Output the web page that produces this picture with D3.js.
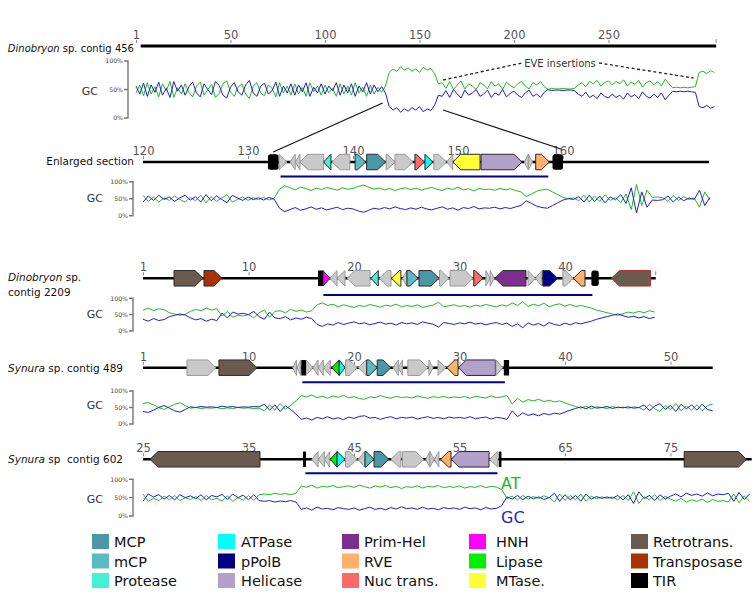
<!DOCTYPE html>
<html><head><meta charset="utf-8">
<script src="https://cdn.jsdelivr.net/npm/d3@7"></script>
<style>body{margin:0;background:#fff}svg{display:block;font-family:"DejaVu Sans",sans-serif}</style>
</head><body><svg id="c" width="756" height="596"></svg>
<script>
// ---------------- DATA ----------------
const geneTypes = ["MCP","mCP","Protease","ATPase","pPolB","Helicase","Prim-Hel","RVE","Nuc trans.","HNH","Lipase","MTase.","Retrotrans.","Transposase","TIR"];
const geneColors = ["#4a97a8","#5bbac3","#45f0d6","#00ffff","#000080","#b2a1cb","#7b2f8e","#ffb06b","#ff6868","#ff00ff","#00ee00","#ffff33","#6b5b4f","#a83300","#000000"];

// contig extents (kb)
const extent456 = [2.5, 307];
const extentEnl = [120, 173.9];
const extent2209 = [0, 48.6];
const extent489 = [0, 54];
const extent602 = [25, 82.7];

// axis ticks
const ticks456 = [0,50,100,150,200,250];
const tickLabels456 = ["1","50","100","150","200","250"];
const ticksEnl = [120,130,140,150,160];
const tickLabelsEnl = ["120","130","140","150","160"];
const ticks2209 = [0,10,20,30,40];
const tickLabels2209 = ["1","10","20","30","40"];
const ticks489 = [0,10,20,30,40,50];
const tickLabels489 = ["1","10","20","30","40","50"];
const ticks602 = [25,35,45,55,65,75];
const tickLabels602 = ["25","35","45","55","65","75"];

// EVE insertion regions (underlined)
const eveEnl = [133.1, 158.6];
const eve2209 = [17.1, 42.6];
const eve489 = [15.1, 34.3];
const eve602 = [40.4, 58.6];

// genes: [start kb, end kb, strand (1,-1, 0=block), type ("g" = hypothetical)]
const genesEnl = [
 [131.9,132.9,0,"TIR"],[132.95,133.7,1,"g"],[134.0,134.5,-1,"g"],[134.5,134.95,-1,"g"],
 [134.95,137.2,-1,"g"],[137.2,137.9,-1,"Protease"],[138.0,139.7,-1,"g"],[140.2,141.2,1,"mCP"],
 [141.3,143.1,1,"MCP"],[143.15,144.0,1,"g"],[144.0,145.7,1,"g"],[145.9,146.8,1,"Nuc trans."],
 [146.85,147.6,1,"ATPase"],[147.7,148.9,1,"g"],[148.95,149.5,-1,"g"],[149.5,152.1,-1,"MTase."],
 [152.2,156.1,1,"Helicase"],[156.3,156.7,-1,"g"],[156.7,157.1,1,"g"],[157.4,158.7,1,"RVE"],
 [159.0,160.0,0,"TIR"]
];
const genes2209 = [
 [2.94,5.69,1,"Retrotrans."],[5.78,7.49,1,"Transposase"],[16.59,17.06,0,"TIR"],[17.06,17.73,1,"HNH"],
 [17.73,18.39,-1,"g"],[18.39,19.15,-1,"g"],[19.34,21.52,-1,"g"],[21.6,22.3,-1,"Protease"],
 [22.4,23.51,-1,"g"],[23.55,24.45,-1,"MTase."],[24.6,25.0,-1,"g"],[25.02,26.07,1,"mCP"],
 [26.16,28.06,1,"MCP"],[28.1,29.0,1,"g"],[29.1,31.28,1,"g"],[31.35,32.23,1,"Nuc trans."],
 [32.5,32.9,1,"g"],[32.9,33.3,1,"g"],[33.36,36.3,-1,"Prim-Hel"],[36.5,37.2,1,"g"],
 [37.2,37.8,-1,"g"],[37.9,39.3,1,"pPolB"],[39.8,40.8,1,"g"],[40.8,41.9,-1,"RVE"],
 [42.5,43.2,0,"TIR"],[44.4,48.1,-1,"Retrotrans."]
];
const genes489 = [
 [4.17,6.92,1,"g"],[7.2,10.8,1,"Retrotrans."],[14.2,14.55,-1,"g"],[14.6,14.95,-1,"g"],
 [15.0,15.45,0,"TIR"],[15.45,16.1,1,"g"],[16.1,16.6,-1,"g"],[16.6,17.1,-1,"g"],[17.1,17.75,-1,"g"],
 [17.9,18.6,-1,"Lipase"],[18.6,19.15,1,"ATPase"],[19.2,20.3,1,"g"],[20.4,21.2,-1,"g"],
 [21.2,22.2,1,"mCP"],[22.2,23.5,1,"MCP"],[23.7,24.2,-1,"g"],[24.2,24.6,-1,"g"],[25.1,27.0,1,"g"],
 [27.1,27.5,1,"g"],[27.96,28.7,1,"g"],[28.8,29.86,-1,"RVE"],[29.9,33.4,-1,"Helicase"],
 [33.46,34.1,1,"g"],[34.2,34.7,0,"TIR"]
];
const genes602 = [
 [25.66,36.09,-1,"Retrotrans."],[40.17,40.45,0,"TIR"],[41.0,41.6,-1,"g"],[41.6,42.2,-1,"g"],
 [42.2,42.7,-1,"g"],[42.75,43.4,-1,"Lipase"],[43.4,44.15,1,"ATPase"],[44.2,45.3,1,"g"],
 [45.4,46.0,-1,"g"],[46.05,46.9,1,"mCP"],[46.9,48.3,1,"MCP"],[48.5,49.45,-1,"g"],[49.6,51.6,1,"g"],
 [51.8,52.2,-1,"g"],[52.2,52.6,1,"g"],[52.6,53.05,-1,"g"],[53.2,54.2,-1,"RVE"],
 [54.2,57.8,-1,"Helicase"],[57.85,58.65,-1,"g"],[58.74,58.9,0,"TIR"],[76.3,82.2,1,"Retrotrans."]
];

// GC content (%) samples, evenly spaced over the given kb range
const gcRange456 = [0, 306];
const gc456 = [
 56,42,61,38,58,45,63,40,52,36, 64,47,58,40,55,63,44,37,60,50,
 41,64,57,40,35,54,62,46,40,58, 66,44,38,56,61,42,48,63,38,56,
 44,60,40,58,46,62,38,54,44,60, 42,56,48,62,40,58,44,60,38,56,
 46,62,42,58,46,55,
 44,20,14,18,10,16,12,18,14,20,11,16,13,22,40,
 38,48,36,50,42,35,49,40,44,50, 38,42,49,36,44,40,50,37,43,47,
 40,36,44,49,38,42,36,45,50,48, 49,49,48,49,49,48,
 42,38,45,36,40,34,44,38,35,42, 36,40,33,44,37,41,34,46,38,35,
 42,36,44,32,40,47, 46,47,46,47,46,45, 20,18,22,17,20
];
const gcRangeEnl = [120, 174];
const gcEnl = [
 40,58,45,60,48,55,42,52,60,46, 56,40,62,44,58,48,38,60,52,45,
 55,47,53,46,54,48,
 22,12,18,24,16,20,26,19,23,17, 21,25,18,22,20,14,10,16,22,19,
 24,20,26,21,18,23,19,25,20,17, 22,26,19,23,16,24,21,27,20,23,
 22,25,20,24,21,26,30,44,36,28, 24,22,30,38,46,
 50,48,56,40,60,42,58,38,55,47, 62,36,82,8,70,25,46,45,47,58,
 40,55,44,52,48,75,30,54
];
const gcRange2209 = [0, 48.5];
const gc2209 = [
 36,30,38,32,35,44,48,52,49,40, 34,38,30,36,32,55,40,58,52,54,
 50,60,44,36,58,40,38,44,34,40, 36,42,38,20,14,22,18,26,20,24,
 28,22,25,19,23,27,21,24,18,26, 22,25,20,28,24,21,12,26,23,20,
 25,22,27,21,24,19,23,26,20,24, 14,22,10,25,18,23,15,26,20,17,
 24,19,25,22,26,30,36,40,44,48, 52,47,42,45,40,44,38,42
];
const gcRange489 = [0, 54];
const gc489 = [
 38,35,42,50,56,48,40,36,44,52, 50,53,51,52,50,54,51,53,50,52,
 51,53,52,60,42,58,38,55,44,30, 14,18,12,20,16,22,15,19,13,21,
 17,23,25,18,20,14,19,22,16,20, 18,21,15,19,22,17,20,16,21,18,
 20,17,22,16,19,21,15,20,18,14, 40,22,34,26,30,25,32,28,33,30,
 36,42,47,52,46,54,48,50,53,47, 51,49,52,48,50,58,40,54,62,44,
 56,38,60,46,58,42,60,44,40
];
const gcRange602 = [25, 82.5];
const gc602 = [
 40,60,52,58,46,56,44,58,50,55, 47,58,44,56,52,59,45,60,50,57,
 44,58,42,40,42,38,41,39,42,38, 18,22,16,24,19,21,17,23,20,18,
 22,16,20,24,18,21,17,23,19,25, 20,22,18,24,19,21,17,23,20,22,
 18,24,20,22,17,23,19,21,28,52, 46,56,44,54,47,52,45,50,62,40,
 58,44,56,40,60,46,53,48,52,48, 56,44,58,34,66,48,56,42,58,46,
 54,60,52,62,56,60,54,63,55,60, 58,62,40,64,45,60
];

// ---------------- LAYOUT ----------------
const svg = d3.select("#c");
const colorOf = Object.fromEntries(geneTypes.map((t,i)=>[t, geneColors[i]]));
const GREEN = "#22b822", BLUE = "#1e1ed0";

const tracks = [
 {key:"c456", x:d3.scaleLinear().domain([0,306]).range([136,714.3]), ext:extent456, ticks:ticks456, labels:tickLabels456,
  y:46, lw:3.2, gc:gc456, gcR:gcRange456, gcTop:61, gcBot:118, bx:128, gcLabelY:95, genes:null, eve:null, endTick:true},
 {key:"enl", x:d3.scaleLinear().domain([120,174]).range([143,710]), ext:extentEnl, ticks:ticksEnl, labels:tickLabelsEnl,
  y:162, lw:2.6, gc:gcEnl, gcR:gcRangeEnl, gcTop:181.7, gcBot:215.7, bx:133, gcLabelY:202, genes:genesEnl, eve:eveEnl, eveY:176.5},
 {key:"c2209", x:d3.scaleLinear().domain([0,48.6]).range([143,655.7]), ext:extent2209, ticks:ticks2209, labels:tickLabels2209,
  y:278.3, lw:2.6, gc:gc2209, gcR:gcRange2209, gcTop:298.3, gcBot:331, bx:133, gcLabelY:318, genes:genes2209, eve:eve2209, eveY:295, endTick:true},
 {key:"c489", x:d3.scaleLinear().domain([0,54]).range([143,712.7]), ext:extent489, ticks:ticks489, labels:tickLabels489,
  y:367.7, lw:2.6, gc:gc489, gcR:gcRange489, gcTop:391, gcBot:424, bx:133, gcLabelY:409, genes:genes489, eve:eve489, eveY:382.3},
 {key:"c602", x:d3.scaleLinear().domain([25,82.7]).range([143,751.7]), ext:extent602, ticks:ticks602, labels:tickLabels602,
  y:459.3, lw:2.6, gc:gc602, gcR:gcRange602, gcTop:479.3, gcBot:516, bx:133, gcLabelY:503, genes:genes602, eve:eve602, eveY:473.3}
];
const redOutline = {c2209: [25]};   // style: gene indices drawn with a red outline

function genePath(x0, x1, strand, yc, h) {
  const w = x1 - x0, head = Math.min(8, w);
  const t = yc - h/2, b = yc + h/2;
  if (strand > 0) return `M${x0},${t}L${x1-head},${t}L${x1},${yc}L${x1-head},${b}L${x0},${b}Z`;
  return `M${x1},${t}L${x0+head},${t}L${x0},${yc}L${x0+head},${b}L${x1},${b}Z`;
}

tracks.forEach(t => {
  const g = svg.append("g");
  const x = t.x;
  g.append("line").attr("x1", x(t.ext[0])).attr("x2", x(t.ext[1])).attr("y1", t.y).attr("y2", t.y)
    .attr("stroke", "#000").attr("stroke-width", t.lw);
  const ax = g.append("g").attr("transform", `translate(0,${t.y - 3})`)
    .call(d3.axisTop(x).tickValues(t.ticks).tickFormat((d,i)=>t.labels[i]).tickSize(3).tickPadding(1));
  ax.select(".domain").remove();
  ax.selectAll("line").attr("stroke", "#888");
  ax.selectAll("text").attr("font-size", 11.5).attr("fill", "#555").attr("font-family", "DejaVu Sans");
  if (t.endTick) g.append("line").attr("x1", x(t.ext[1])).attr("x2", x(t.ext[1])).attr("y1", t.y-7).attr("y2", t.y-3)
    .attr("stroke", "#888");
  if (t.eve) g.append("line").attr("x1", x(t.eve[0])).attr("x2", x(t.eve[1])).attr("y1", t.eveY).attr("y2", t.eveY)
    .attr("stroke", "#00008b").attr("stroke-width", 2);
  if (t.genes) {
    const red = redOutline[t.key] || [];
    g.selectAll("path.gene").data(t.genes).join("path").attr("class","gene")
      .attr("d", d => d[2] === 0 ? null : genePath(x(d[0]), x(d[1]), d[2], t.y, 15.5))
      .attr("fill", d => d[3] === "g" ? "#c9c9c9" : colorOf[d[3]])
      .attr("stroke", (d,i) => red.includes(i) ? "#b03030" : (d[3] === "g" ? "#9a9a9a" : "#2a2a2a"))
      .attr("stroke-width", 1).attr("stroke-linejoin", "round");
    g.selectAll("rect.tir").data(t.genes.filter(d => d[2] === 0)).join("rect").attr("class","tir")
      .attr("x", d => x(d[0])).attr("width", d => Math.max(2.5, x(d[1]) - x(d[0])))
      .attr("y", t.y - 7.75).attr("height", 15.5).attr("rx", d => (x(d[1]) - x(d[0])) > 6 ? 2.5 : 0.5)
      .attr("fill", colorOf["TIR"]);
  }
  const yS = d3.scaleLinear().domain([0,100]).range([t.gcBot, t.gcTop]);
  const n = t.gc.length;
  const pos = d3.range(n).map(i => t.gcR[0] + i * (t.gcR[1] - t.gcR[0]) / (n - 1));
  const line = d3.line().x((d,i) => x(pos[i])).y(d => yS(d));
  g.append("path").attr("d", line(t.gc.map(v => 100 - v))).attr("fill","none").attr("stroke", GREEN).attr("stroke-width", 1);
  g.append("path").attr("d", line(t.gc)).attr("fill","none").attr("stroke", BLUE).attr("stroke-width", 1);
  const bx = t.bx;
  g.append("path").attr("d", `M${bx-4},${yS(100)}H${bx}V${yS(0)}H${bx-4}M${bx},${yS(50)}H${bx-4}`)
    .attr("fill","none").attr("stroke","#777").attr("stroke-width",1.4);
  [["100%",100],["50%",50],["0%",0]].forEach(([lab,v]) => {
    g.append("text").attr("x", bx - 5).attr("y", yS(v) + 2.2).attr("text-anchor","end")
      .attr("font-size", 6.2).attr("fill", "#444").text(lab);
  });
  g.append("text").attr("x", bx - 30).attr("y", t.gcLabelY).attr("text-anchor","end")
    .attr("font-size", 11).attr("fill", "#333").text("GC");
});

function nameLabel(x, y, italic, rest, size, anchor) {
  const tx = svg.append("text").attr("x", x).attr("y", y).attr("font-size", size).attr("fill", "#111")
    .attr("text-anchor", anchor || "start");
  if (italic) tx.append("tspan").attr("font-style","italic").text(italic);
  tx.append("tspan").text(rest);
}
nameLabel(134, 52, "Dinobryon", " sp. contig 456", 10, "end");
nameLabel(134, 165, null, "Enlarged section", 10.5, "end");
nameLabel(8, 281, "Dinobryon", " sp.", 10.5);
nameLabel(8, 296, null, "contig 2209", 10.5);
nameLabel(8, 372, "Synura", " sp. contig 489", 10.5);
nameLabel(8, 463, "Synura", " sp\u00a0 contig 602", 10.5);

const xM = tracks[0].x, xE = tracks[1].x;
svg.append("line").attr("x1", xM(130.5)).attr("y1", 103).attr("x2", xE(132.4)).attr("y2", 152)
  .attr("stroke","#111").attr("stroke-width",1.2);
svg.append("line").attr("x1", xM(162.5)).attr("y1", 110).attr("x2", xE(159.8)).attr("y2", 149)
  .attr("stroke","#111").attr("stroke-width",1.2);
svg.append("line").attr("x1", xM(162.5)).attr("y1", 80).attr("x2", 522).attr("y2", 63)
  .attr("stroke","#222").attr("stroke-width",1.3).attr("stroke-dasharray","3,2.5");
svg.append("line").attr("x1", 599).attr("y1", 63).attr("x2", xM(295)).attr("y2", 78)
  .attr("stroke","#222").attr("stroke-width",1.3).attr("stroke-dasharray","3,2.5");
svg.append("text").attr("x", 560).attr("y", 67).attr("text-anchor","middle").attr("font-size", 10)
  .attr("fill","#333").text("EVE insertions");

svg.append("text").attr("x", 501).attr("y", 489).attr("font-size", 16).attr("fill", GREEN).text("AT");
svg.append("text").attr("x", 501).attr("y", 523).attr("font-size", 16).attr("fill", BLUE).text("GC");

const legSquareX = [92, 218, 342, 469, 631];
const legTextX = [114, 241, 364, 496, 653];
const legRowY = [534, 553.5, 573];
geneTypes.forEach((tname, i) => {
  const c = Math.floor(i / 3), r = i % 3;
  svg.append("rect").attr("x", legSquareX[c]).attr("y", legRowY[r]).attr("width", 17).attr("height", 15)
    .attr("fill", geneColors[i]);
  svg.append("text").attr("x", legTextX[c]).attr("y", legRowY[r] + 13).attr("font-size", 14.5)
    .attr("fill", "#111").text(tname);
});
</script></body></html>
